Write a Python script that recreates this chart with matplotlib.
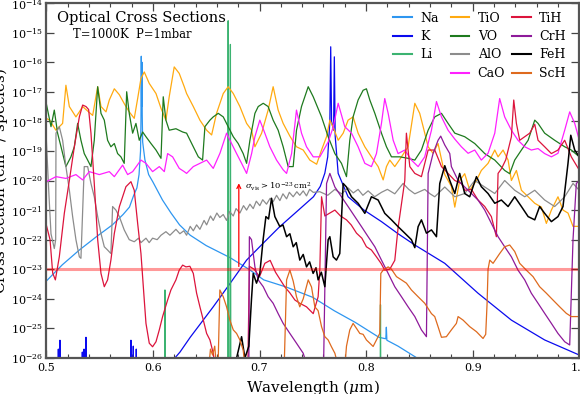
import matplotlib
matplotlib.use("Agg")
import matplotlib.pyplot as plt
import numpy as np
from matplotlib.ticker import FixedLocator, MultipleLocator, NullLocator

plt.rcParams["font.family"] = ["DejaVu Serif"]
plt.rcParams["mathtext.fontset"] = "dejavuserif"

# log10 cross section (cm^2 / species) vs wavelength (um)
na_wl = [0.500, 0.515, 0.531, 0.547, 0.562, 0.572, 0.578, 0.582, 0.585, 0.587, 0.5884,
         0.5888, 0.5891, 0.5894, 0.5897, 0.5900, 0.5904, 0.5925, 0.596, 0.600, 0.609,
         0.617, 0.625, 0.635, 0.650, 0.672, 0.690, 0.704, 0.725, 0.750, 0.770, 0.790,
         0.812, 0.8185, 0.8190, 0.8195, 0.830, 0.846, 0.860]
na_sig = [-23.4, -22.85, -22.35, -21.9, -21.5, -21.15, -20.9, -20.5, -20.25, -19.8, -19.0,
          -18.0, -15.8, -17.5, -16.0, -17.8, -18.7, -19.3, -19.8, -20.05, -20.66,
          -21.1, -21.5, -21.85, -22.2, -22.6, -23.0, -23.36, -23.6, -23.95, -24.4, -24.8,
          -25.3, -25.35, -24.96, -25.4, -25.6, -25.96, -26.3]

k_wl = [0.500, 0.5110, 0.5113, 0.5116, 0.5125, 0.5128, 0.5131, 0.5335, 0.5338, 0.5341,
        0.5351, 0.5354, 0.5357, 0.5369, 0.5372, 0.5375, 0.5791, 0.5794, 0.5797, 0.5813,
        0.5816, 0.5819, 0.5841, 0.5844, 0.5847, 0.615, 0.6206, 0.6254, 0.635, 0.6566,
        0.672, 0.6879, 0.704, 0.719, 0.735, 0.7506, 0.757, 0.7613, 0.764, 0.7660, 0.7668,
        0.7676, 0.7695, 0.7702, 0.7710, 0.7738, 0.7831, 0.798, 0.8144, 0.830, 0.8457,
        0.8738, 0.905, 0.9363, 0.9675, 1.0]
k_sig = [-27, -27, -25.7, -27, -27, -25.4, -27, -27, -25.8, -27,
         -27, -25.7, -27, -27, -25.3, -27, -27, -25.4, -27, -27,
         -25.6, -27, -27, -25.7, -27, -27, -26.0, -25.8, -25.3, -24.27,
         -23.5, -22.69, -22.1, -21.56, -21.05, -20.55, -20.2, -19.75, -19.2, -18.0, -15.48,
         -18.0, -18.3, -15.82, -18.5, -19.76, -20.55, -21.0, -21.39, -21.8, -22.18,
         -22.8, -23.81, -24.72, -25.39, -25.9]

li_wl = [0.500, 0.6110, 0.6113, 0.6116, 0.6702, 0.6706, 0.6710, 0.6723, 0.6727, 0.6731,
         0.8132, 0.8135, 0.8138, 1.0]
li_sig = [-27, -27, -23.7, -27, -27, -14.6, -27, -27, -15.4, -27,
          -27, -24.2, -27, -27]

tio_wl = [0.500, 0.5031, 0.509, 0.5153, 0.5184, 0.5216, 0.5278, 0.531, 0.5341, 0.5403,
          0.5435, 0.5482, 0.5513, 0.556, 0.5591, 0.5638, 0.5685, 0.5731, 0.5778, 0.5825,
          0.5857, 0.5888, 0.5919, 0.5966, 0.6029, 0.6076, 0.6122, 0.6153, 0.620, 0.6247,
          0.6294, 0.6316, 0.6379, 0.6441, 0.6504, 0.6551, 0.6597, 0.666, 0.6706, 0.6754,
          0.6816, 0.6879, 0.6926, 0.6957, 0.702, 0.7081, 0.7128, 0.7175, 0.7222, 0.7285,
          0.7347, 0.741, 0.7472, 0.7536, 0.7582, 0.7629, 0.766, 0.7691, 0.7738, 0.7785,
          0.7831, 0.7878, 0.7925, 0.7988, 0.805, 0.8113, 0.816, 0.8191, 0.8222, 0.8269,
          0.8332, 0.8394, 0.8457, 0.8503, 0.8535, 0.8582, 0.8628, 0.8675, 0.8738, 0.880,
          0.8832, 0.8878, 0.8925, 0.8972, 0.9035, 0.9081, 0.9144, 0.9207, 0.9238, 0.9285,
          0.9332, 0.9363, 0.941, 0.9457, 0.952, 0.9582, 0.9644, 0.9691, 0.9738, 0.980,
          0.9847, 0.9894, 0.9941, 1.0]
tio_sig = [-17.9, -17.96, -18.3, -18.07, -16.78, -17.5, -17.85, -17.68, -17.5, -17.7,
           -17.8, -16.83, -17.5, -17.68, -17.28, -16.9, -17.1, -17.4, -17.68, -17.9,
           -17.23, -16.55, -16.33, -16.72, -17.06, -17.56, -17.96, -17.17, -16.16, -16.38,
           -16.83, -17.06, -17.5, -17.96, -18.3, -18.46, -17.73, -17.06, -16.83, -17.06,
           -17.5, -18.07, -18.3, -18.86, -18.4, -17.62, -16.83, -17.62, -18.07, -18.5,
           -18.86, -18.97, -19.31, -19.45, -18.97, -18.52, -17.96, -18.2, -18.64, -18.4,
           -17.96, -17.85, -18.4, -18.86, -19.2, -19.53, -19.98, -19.53, -19.31, -19.53,
           -19.2, -18.86, -17.39, -17.73, -18.18, -18.86, -19.08, -18.75, -19.8, -20.2,
           -20.9, -20.0, -19.77, -20.33, -20.0, -19.66, -19.42, -18.97, -19.2, -18.97,
           -19.31, -20.0, -19.66, -20.33, -20.55, -20.77, -20.9, -21.45, -21.0, -20.55,
           -21.0, -21.1, -21.55, -21.55]

vo_wl = [0.500, 0.5044, 0.5075, 0.5106, 0.5138, 0.5184, 0.5231, 0.5263, 0.5294, 0.5325,
         0.5356, 0.5388, 0.5419, 0.545, 0.5482, 0.5513, 0.5544, 0.5575, 0.5606, 0.5638,
         0.5669, 0.570, 0.5731, 0.5754, 0.5778, 0.581, 0.5841, 0.5872, 0.5904, 0.5935,
         0.5982, 0.6029, 0.6076, 0.6097, 0.6122, 0.6153, 0.6216, 0.6279, 0.6316, 0.6379,
         0.6426, 0.6466, 0.6488, 0.6535, 0.6566, 0.6613, 0.666, 0.6706, 0.6754, 0.680,
         0.6847, 0.6879, 0.691, 0.6957, 0.6988, 0.7035, 0.7081, 0.7128, 0.7175, 0.7222,
         0.7269, 0.7316, 0.7347, 0.7394, 0.7457, 0.7504, 0.7519, 0.7582, 0.7644, 0.7707,
         0.7769, 0.7816, 0.7847, 0.7878, 0.7925, 0.7972, 0.8003, 0.8035, 0.8082, 0.8144,
         0.8191, 0.8238, 0.8316, 0.8394, 0.8457, 0.8519, 0.8582, 0.8644, 0.8707, 0.8769,
         0.8832, 0.8925, 0.9019, 0.9113, 0.9207, 0.930, 0.9347, 0.9394, 0.9457, 0.952,
         0.9582, 0.9613, 0.9675, 0.9769, 0.9863, 0.9925, 1.0]
vo_sig = [-17.4, -18.18, -17.62, -18.4, -18.86, -19.53, -19.2, -18.86, -18.07, -18.64,
          -19.09, -19.31, -19.53, -18.64, -16.83, -17.73, -17.96, -18.64, -18.86, -18.75,
          -19.09, -19.2, -19.42, -17.0, -17.73, -18.4, -18.07, -18.64, -18.36, -18.52,
          -18.75, -18.97, -19.25, -17.17, -17.96, -18.3, -18.25, -18.36, -18.4, -18.86,
          -19.2, -19.31, -18.18, -17.96, -17.85, -17.73, -17.85, -18.18, -18.52, -18.75,
          -19.09, -19.42, -18.64, -17.73, -17.5, -17.39, -17.5, -17.96, -18.3, -18.86,
          -19.53, -19.53, -18.3, -17.5, -16.83, -17.17, -17.3, -17.85, -18.52, -19.09,
          -19.42, -19.87, -18.64, -17.85, -17.28, -16.95, -16.9, -17.28, -17.73, -18.4,
          -18.86, -19.2, -19.2, -19.25, -19.31, -18.97, -18.3, -17.85, -17.73, -18.07,
          -18.4, -18.52, -18.75, -19.09, -19.31, -19.66, -19.77, -19.31, -18.97, -18.64,
          -17.96, -18.07, -18.4, -18.64, -18.86, -18.97, -19.2]

alo_wl = [0.500, 0.5025, 0.5044, 0.5075, 0.5088, 0.5091, 0.5122, 0.5153, 0.5184, 0.5216,
          0.5247, 0.5278, 0.531, 0.5325, 0.5356, 0.5388, 0.5419, 0.545, 0.5482, 0.5513,
          0.5544, 0.5575, 0.5606, 0.5622, 0.5653, 0.5685, 0.5731, 0.5778, 0.5825, 0.5865,
          0.5888, 0.5935, 0.5965, 0.5997, 0.6040, 0.6076, 0.6122, 0.616, 0.6216, 0.6253,
          0.629, 0.6316, 0.635, 0.6379, 0.641, 0.6441, 0.648, 0.6504, 0.654, 0.6566,
          0.660, 0.6628, 0.666, 0.6691, 0.672, 0.6754, 0.678, 0.6816, 0.685, 0.6879,
          0.691, 0.6941, 0.697, 0.7003, 0.703, 0.7066, 0.710, 0.7128, 0.716, 0.7191,
          0.722, 0.7254, 0.728, 0.7316, 0.735, 0.7378, 0.741, 0.7441, 0.747, 0.7504,
          0.7566, 0.7640, 0.7707, 0.7770, 0.7831, 0.7880, 0.7925, 0.7970, 0.8019, 0.8080,
          0.8144, 0.8200, 0.8269, 0.8347, 0.8400, 0.8457, 0.855, 0.860, 0.8644, 0.8738,
          0.8790, 0.8832, 0.8925, 0.9019, 0.9113, 0.9207, 0.930, 0.9394, 0.9488, 0.9582,
          0.9675, 0.9769, 0.9863, 0.9941, 1.0]
alo_sig = [-18.6, -20.5, -21.8, -22.3, -22.0, -18.4, -18.18, -18.64, -19.53, -20.32,
           -21.22, -22.0, -22.58, -22.63, -19.53, -19.53, -20.1, -20.55, -21.22, -21.79,
           -22.24, -22.35, -22.47, -20.88, -21.0, -21.22, -21.67, -22.0, -22.07, -21.95,
           -22.1, -21.95, -22.1, -21.95, -22.0, -21.85, -21.73, -21.85, -21.65, -21.8,
           -21.7, -21.85, -21.55, -21.7, -21.5, -21.65, -21.35, -21.5, -21.2, -21.35,
           -21.1, -21.25, -21.15, -21.35, -21.05, -21.2, -20.95, -21.1, -20.85, -21.0,
           -20.8, -20.95, -20.7, -20.85, -20.65, -20.8, -20.6, -20.72, -20.5, -20.68,
           -20.45, -20.62, -20.4, -20.55, -20.38, -20.5, -20.35, -20.52, -20.3, -20.4,
           -20.38, -20.5, -20.3, -20.45, -20.25, -20.42, -20.3, -20.5, -20.35, -20.55,
           -20.4, -20.3, -20.45, -20.1, -20.3, -20.45, -20.3, -20.45, -20.55, -20.22,
           -20.4, -20.55, -20.44, -20.0, -20.22, -20.44, -20.0, -20.33, -20.55, -20.33,
           -20.66, -20.88, -20.55, -20.1, -20.33]

cao_wl = [0.500, 0.5091, 0.5184, 0.5278, 0.5341, 0.5403, 0.5497, 0.5591, 0.5638, 0.5716,
          0.5763, 0.581, 0.5888, 0.5935, 0.5997, 0.606, 0.6107, 0.6138, 0.6185, 0.6247,
          0.6294, 0.6316, 0.6379, 0.6441, 0.6504, 0.6566, 0.6629, 0.6691, 0.6738, 0.6785,
          0.6832, 0.6879, 0.6926, 0.6957, 0.7003, 0.705, 0.7097, 0.716, 0.7222, 0.7254,
          0.7301, 0.7347, 0.7394, 0.7441, 0.7504, 0.7566, 0.7644, 0.7691, 0.7738, 0.780,
          0.7863, 0.7925, 0.7988, 0.805, 0.8097, 0.8144, 0.8175, 0.8207, 0.8254, 0.830,
          0.8363, 0.8425, 0.8488, 0.855, 0.8613, 0.866, 0.8707, 0.8769, 0.8832, 0.8894,
          0.8957, 0.9019, 0.9081, 0.9144, 0.9207, 0.9253, 0.930, 0.9363, 0.9425, 0.9488,
          0.955, 0.9613, 0.9675, 0.9738, 0.980, 0.9863, 0.991, 0.9957, 1.0]
cao_sig = [-20.04, -19.87, -19.93, -19.8, -19.98, -19.7, -19.8, -19.7, -19.87, -19.48,
           -19.8, -19.7, -19.31, -19.42, -19.7, -19.53, -19.7, -19.09, -19.2, -19.59,
           -19.7, -19.76, -19.53, -19.42, -19.31, -19.59, -19.08, -18.4, -18.75, -19.09,
           -19.42, -19.76, -19.09, -18.52, -17.96, -18.4, -18.86, -19.31, -19.64, -19.76,
           -19.09, -17.62, -18.4, -18.86, -19.2, -19.2, -18.7, -18.2, -17.39, -18.18,
           -18.4, -18.86, -19.42, -19.53, -19.09, -18.07, -17.23, -17.73, -18.64, -19.09,
           -18.97, -19.31, -19.53, -19.2, -18.3, -17.33, -17.85, -18.3, -18.6, -18.86,
           -19.08, -18.97, -19.31, -19.08, -18.4, -17.23, -17.85, -18.3, -18.64, -18.86,
           -18.97, -18.92, -19.09, -19.2, -19.08, -18.3, -17.68, -18.07, -18.64]

tih_wl = [0.500, 0.5035, 0.506, 0.5085, 0.5122, 0.5169, 0.5216, 0.5263, 0.531, 0.5341,
          0.5372, 0.5397, 0.5419, 0.545, 0.5482, 0.5513, 0.5544, 0.5575, 0.5606, 0.5638,
          0.5685, 0.5747, 0.5794, 0.5825, 0.5857, 0.5888, 0.5919, 0.5935, 0.5966, 0.5997,
          0.6029, 0.606, 0.6091, 0.6138, 0.6169, 0.6216, 0.6247, 0.6279, 0.631, 0.6347,
          0.6379, 0.641, 0.6441, 0.6473, 0.6504, 0.6535, 0.6566, 0.659, 0.689, 0.6905,
          0.695, 0.700, 0.705, 0.710, 0.715, 0.7238, 0.7285, 0.7332, 0.7378, 0.7441,
          0.7504, 0.755, 0.7566, 0.7582, 0.7613, 0.7660, 0.7707, 0.7760, 0.7816, 0.7860,
          0.7910, 0.7960, 0.8003, 0.8050, 0.8097, 0.8140, 0.8175, 0.8222, 0.8269, 0.8300,
          0.8363, 0.8378, 0.841, 0.8457, 0.8519, 0.8582, 0.8644, 0.8707, 0.8769, 0.8832,
          0.8894, 0.8925, 0.8988, 0.905, 0.9113, 0.9175, 0.9222, 0.9238, 0.927, 0.931,
          0.9363, 0.9385, 0.941, 0.9441, 0.9488, 0.9535, 0.9582, 0.9613, 0.9675, 0.9738,
          0.980, 0.9863, 0.9925, 1.0]
tih_sig = [-21.5, -22.0, -23.13, -23.36, -22.58, -21.11, -20.0, -18.86, -17.85, -17.45,
           -17.5, -17.6, -18.4, -20.1, -22.0, -23.14, -23.59, -23.36, -22.69, -21.79,
           -20.89, -20.21, -20.04, -20.33, -21.45, -22.47, -24.04, -24.83, -25.5, -25.62,
           -25.45, -25.05, -24.6, -24.04, -23.7, -23.36, -23.03, -22.86, -22.92, -22.9,
           -23.14, -23.81, -24.27, -24.72, -25.17, -25.39, -25.84, -26.5, -26.5, -22.9,
           -23.0, -23.25, -22.8, -22.7, -23.1, -23.6, -23.8, -24.04, -24.15, -24.27,
           -24.5, -23.93, -23.0, -20.55, -21.2, -21.1, -21.0, -21.2, -21.33, -21.5,
           -21.78, -21.95, -22.24, -22.35, -22.58, -22.8, -23.03, -23.0, -22.7, -21.6,
           -20.0, -18.4, -19.53, -19.76, -19.87, -18.97, -18.97, -19.53, -19.76, -20.0,
           -20.1, -20.33, -20.3, -20.66, -20.88, -21.22, -21.9, -19.76, -19.6, -19.3,
           -18.52, -17.28, -18.07, -18.64, -18.52, -18.4, -18.1, -18.64, -18.86, -19.09,
           -18.97, -18.64, -19.2, -19.65]

crh_wl = [0.500, 0.6900, 0.6905, 0.6925, 0.6957, 0.6988, 0.7035, 0.7081, 0.7128, 0.7175,
          0.7222, 0.7285, 0.7347, 0.741, 0.7441, 0.7600, 0.7629, 0.766, 0.7707, 0.7769,
          0.7831, 0.7894, 0.7957, 0.8019, 0.8082, 0.8144, 0.8207, 0.8269, 0.8332, 0.8394,
          0.8457, 0.8519, 0.8566, 0.8582, 0.8628, 0.8675, 0.870, 0.8738, 0.8785, 0.880,
          0.8863, 0.8925, 0.8988, 0.905, 0.9113, 0.9175, 0.9238, 0.930, 0.9363, 0.9425,
          0.9488, 0.955, 0.9613, 0.9675, 0.9738, 0.980, 0.9863, 0.991, 0.9941, 0.9972, 1.0]
crh_sig = [-27, -26.5, -21.9, -22.0, -22.92, -23.36, -23.59, -23.93, -24.15, -24.5,
           -24.83, -25.17, -25.5, -25.84, -26.2, -26.5, -20.1, -19.76, -20.22, -20.55,
           -20.88, -21.22, -21.56, -21.9, -22.24, -22.69, -23.14, -23.59, -23.93, -24.27,
           -24.6, -25.05, -25.28, -19.76, -19.09, -18.64, -18.5, -18.8, -19.09, -19.53,
           -20.0, -20.22, -20.44, -20.66, -21.0, -21.45, -21.9, -22.24, -22.58, -23.03,
           -23.36, -23.81, -24.15, -24.49, -24.83, -25.17, -25.45, -25.56, -22.0, -20.1, -20.0]

feh_wl = [0.500, 0.674, 0.6785, 0.6832, 0.6863, 0.690, 0.6925, 0.6941, 0.6972, 0.7003,
          0.7034, 0.706, 0.7085, 0.7113, 0.7144, 0.7191, 0.7220, 0.7254, 0.7285, 0.7316,
          0.7345, 0.7378, 0.7410, 0.7441, 0.7470, 0.7503, 0.7530, 0.755, 0.7580, 0.7613,
          0.7644, 0.766, 0.7691, 0.7722, 0.7753, 0.7785, 0.7816, 0.7863, 0.7925, 0.7988,
          0.805, 0.8113, 0.8175, 0.8238, 0.830, 0.8363, 0.8425, 0.8457, 0.8488, 0.8519,
          0.8566, 0.8613, 0.866, 0.8691, 0.8738, 0.8785, 0.8832, 0.8878, 0.8925, 0.8972,
          0.9035, 0.9081, 0.9144, 0.9207, 0.9269, 0.9332, 0.9394, 0.9457, 0.952, 0.9582,
          0.9628, 0.9675, 0.9738, 0.980, 0.9847, 0.9894, 0.992, 0.9957, 1.0]
feh_sig = [-27, -27, -26.0, -25.28, -26.0, -25.6, -24.0, -23.14, -23.47, -23.14,
           -22.0, -21.22, -21.3, -20.6, -21.22, -21.56, -21.5, -21.9, -21.8, -22.24,
           -22.1, -22.69, -22.5, -22.92, -22.75, -23.14, -22.95, -23.36, -23.1, -23.59,
           -22.0, -21.9, -22.58, -22.69, -22.47, -20.1, -20.22, -20.55, -20.77, -21.11,
           -20.55, -20.66, -21.11, -21.33, -21.56, -21.78, -22.0, -22.27, -21.56, -21.33,
           -21.78, -21.67, -21.9, -20.1, -19.5, -20.0, -20.44, -19.76, -20.44, -20.55,
           -19.87, -20.21, -20.44, -20.77, -20.66, -20.88, -20.55, -20.88, -21.22, -21.33,
           -20.88, -21.11, -21.39, -21.22, -20.88, -19.42, -18.47, -18.97, -19.2]

sch_wl = [0.500, 0.652, 0.654, 0.656, 0.658, 0.660, 0.661, 0.6628, 0.666, 0.6691,
          0.6722, 0.6754, 0.6785, 0.6816, 0.6847, 0.687, 0.723, 0.7254, 0.7285, 0.7316,
          0.7347, 0.7378, 0.741, 0.7457, 0.7488, 0.7519, 0.755, 0.7582, 0.7613, 0.7644,
          0.7675, 0.7707, 0.774, 0.780, 0.7816, 0.7847, 0.7878, 0.791, 0.7941, 0.7972,
          0.8003, 0.8035, 0.8066, 0.8097, 0.8128, 0.8138, 0.816, 0.8207, 0.8238, 0.8285,
          0.8332, 0.8378, 0.8425, 0.8488, 0.855, 0.8613, 0.8644, 0.8675, 0.8707, 0.8753,
          0.880, 0.8847, 0.8863, 0.891, 0.8972, 0.9035, 0.9097, 0.9122, 0.9135, 0.9144,
          0.916, 0.9191, 0.9253, 0.930, 0.9347, 0.9394, 0.9441, 0.9503, 0.9566, 0.9628,
          0.9691, 0.9753, 0.9816, 0.9878, 0.9925, 1.0]
sch_sig = [-27, -26.5, -25.7, -25.9, -25.6, -26.5, -26.5, -23.7, -23.93, -24.27,
           -24.72, -25.05, -25.17, -25.39, -25.73, -26.5, -26.5, -23.36, -23.03, -23.4,
           -23.93, -24.27, -24.0, -23.36, -23.6, -24.27, -24.4, -24.94, -25.28, -25.39,
           -25.62, -25.84, -26.3, -26.3, -25.6, -25.05, -24.83, -25.0, -25.17, -25.2,
           -25.39, -25.5, -25.61, -25.39, -25.17, -23.14, -23.03, -22.92, -23.0, -23.25,
           -23.36, -23.47, -23.7, -23.93, -24.15, -24.5, -24.6, -24.94, -25.3, -25.28,
           -25.05, -24.83, -24.6, -24.72, -24.94, -25.11, -25.34, -25.2, -24.15, -23.0,
           -22.69, -22.8, -22.47, -22.24, -22.18, -22.4, -22.8, -23.03, -23.25, -23.59,
           -23.81, -24.04, -24.27, -24.49, -24.6, -24.6]

species = ["Na", "K", "Li", "TiO", "VO", "AlO", "CaO", "TiH", "CrH", "FeH", "ScH"]
colors = ["#2E96F0", "#0A0AEE", "#3CB371", "#FFAA10", "#1E7A1E", "#8C8C8C",
          "#FF20FF", "#DC143C", "#8E1A9A", "#000000", "#DE6A1E"]
series = [(na_wl, na_sig), (k_wl, k_sig), (li_wl, li_sig), (tio_wl, tio_sig),
          (vo_wl, vo_sig), (alo_wl, alo_sig), (cao_wl, cao_sig), (tih_wl, tih_sig),
          (crh_wl, crh_sig), (feh_wl, feh_sig), (sch_wl, sch_sig)]

threshold = 1e-23
arrow_wl = 0.6806
yticks = [10.0 ** p for p in range(-26, -13)]

fig = plt.figure(figsize=(5.8, 3.94), dpi=100)
ax = fig.add_axes([46.3 / 580, 36 / 394, 533 / 580, 355 / 394])

lines = {}
for name, col, (wl, sig) in zip(species, colors, series):
    lw = 1.1 if name == "FeH" else 0.9
    (ln,) = ax.plot(wl, 10.0 ** np.array(sig), color=col, lw=lw, label=name)
    lines[name] = ln

ax.axhline(threshold, color="red", lw=2.2, alpha=0.4)
ax.annotate("", xy=(arrow_wl, 1e-20), xytext=(arrow_wl, threshold),
            arrowprops=dict(arrowstyle="->", color="red", lw=0.9, mutation_scale=7))
ax.text(0.6863, 10 ** -20.2, r"$\sigma_{\rm vis} > 10^{-23}\,{\rm cm}^2$",
        fontsize=6, va="center", ha="left")

ax.set_yscale("log")
ax.set_xlim(0.5, 1.0)
ax.set_ylim(1e-26, 1e-14)
ax.yaxis.set_major_locator(FixedLocator(yticks))
ax.yaxis.set_minor_locator(NullLocator())
ax.xaxis.set_major_locator(MultipleLocator(0.1))
ax.xaxis.set_minor_locator(MultipleLocator(0.02))
ax.tick_params(which="both", direction="in", top=True, right=True, labelsize=8,
               color="#444444")
ax.tick_params(axis="y", pad=2.5)
ax.tick_params(which="major", length=6, width=0.9)
ax.tick_params(which="minor", length=3, width=0.8)
for sp in ax.spines.values():
    sp.set_color("#555555")
    sp.set_linewidth(1.6)

ax.set_xlabel(r"Wavelength ($\mu$m)", fontsize=11, labelpad=4)
ax.set_ylabel(r"Cross Section (cm$^2$ / species)", fontsize=11)
ax.yaxis.set_label_coords(-0.066, 0.5)

ax.text(0.02, 0.958, "Optical Cross Sections", transform=ax.transAxes,
        fontsize=10.5, va="center", ha="left")
ax.text(0.05, 0.91, "T=1000K  P=1mbar", transform=ax.transAxes,
        fontsize=8.3, va="center", ha="left")

blank = plt.Line2D([], [], color="none", label="      ")
handles = [lines["Na"], lines["K"], lines["Li"], blank,
           lines["TiO"], lines["VO"], lines["AlO"], lines["CaO"],
           lines["TiH"], lines["CrH"], lines["FeH"], lines["ScH"]]
leg = ax.legend(handles=handles, ncol=3, loc="upper right", frameon=False,
                fontsize=9, handlelength=1.47, handletextpad=0.67, columnspacing=0.56,
                labelspacing=0.43, borderaxespad=0.3, bbox_to_anchor=(0.9906, 1.0))
for h in leg.legend_handles:
    h.set_linewidth(1.5)

fig.savefig("out.png", dpi=100)
